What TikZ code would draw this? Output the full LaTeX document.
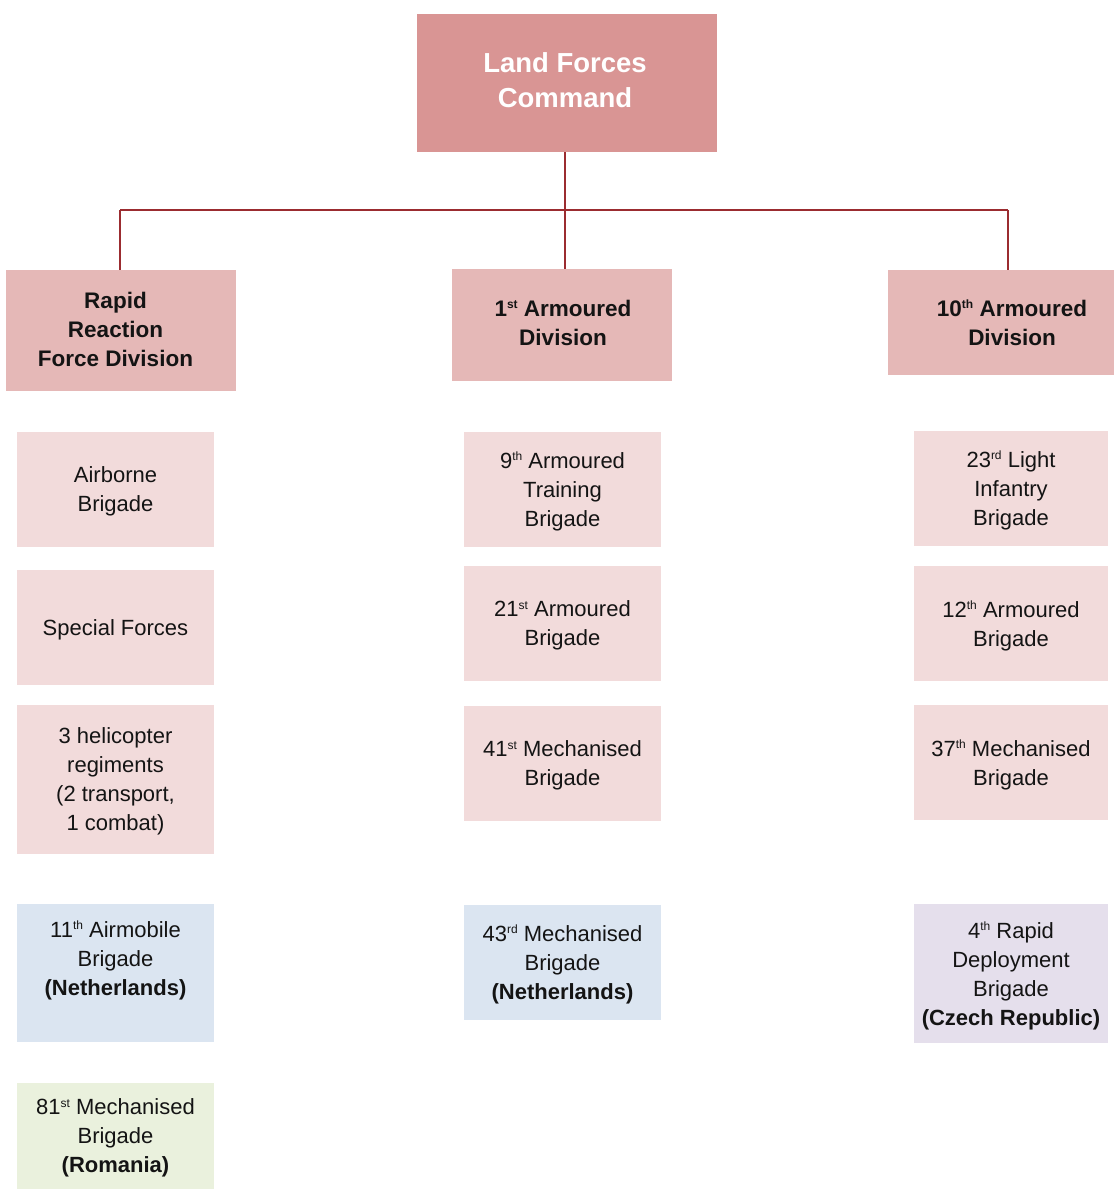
\documentclass[tikz,border=0pt]{standalone}
\usepackage{fontspec}
\setmainfont{Liberation Sans}
\definecolor{topc}{HTML}{D99594}
\definecolor{divc}{HTML}{E5B8B7}
\definecolor{subc}{HTML}{F2DBDB}
\definecolor{bluec}{HTML}{DBE5F1}
\definecolor{greenc}{HTML}{EAF1DD}
\definecolor{lavc}{HTML}{E5DFEC}
\definecolor{linec}{HTML}{9B2C30}
\definecolor{txtc}{HTML}{141414}
\newcommand{\sth}[1]{\raisebox{0.36em}{\fontsize{12}{12}\selectfont #1}}
\begin{document}
\begin{tikzpicture}[x=1pt,y=1pt,
  box/.style={inner sep=0pt, align=center, text=txtc, text depth=0pt,
    font=\fontsize{22}{29}\selectfont},
  plain/.style={inner sep=0pt},
  topbox/.style={plain, fill=topc, minimum width=300pt, minimum height=138pt},
  toptext/.style={box, text=white, font=\fontsize{27.5}{35}\selectfont\bfseries},
  divbox/.style={plain, fill=divc},
  divtext/.style={box, font=\fontsize{22.5}{29}\selectfont\bfseries},
  subbox/.style={box, fill=subc},
  conn/.style={draw=linec, line width=1.8pt}]
\useasboundingbox (0,0) rectangle (1114,-1189);
\node[topbox] (top) at (567,-83) {};
\node[toptext] (topt) at (565,-80) {Land Forces\\Command};
\node[divbox, minimum width=230pt, minimum height=121pt] (rrf) at (121,-330.5) {};
\node[divtext] (rrft) at (115.5,-329) {Rapid\\Reaction\\Force Division};
\node[divbox, minimum width=220pt, minimum height=112pt] (arm1) at (562,-325) {};
\node[divtext] (arm1t) at (563,-322.5) {1\sth{st} Armoured\\Division};
\node[divbox, minimum width=226pt, minimum height=105pt] (arm10) at (1001,-322.5) {};
\node[divtext] (arm10t) at (1012,-322.5) {10\sth{th} Armoured\\Division};
% connectors
\coordinate (jl) at (120,-210);
\coordinate (jc) at (565,-210);
\coordinate (jr) at (1008,-210);
\draw[conn] (top.south -| jc) -- (jc);
\draw[conn] (jl) -- (jr);
\draw[conn] (jl) -- (jl |- rrf.north);
\draw[conn] (jc) -- (jc |- arm1.north);
\draw[conn] (jr) -- (jr |- arm10.north);
% left column
\node[subbox, minimum width=197pt, minimum height=115pt] (airb) at (115.5,-489.5) {Airborne\\Brigade};
\node[subbox, minimum width=197pt, minimum height=115pt] (spec) at (115.5,-627.5) {Special Forces};
\node[subbox, minimum width=197pt, minimum height=149pt] (heli) at (115.5,-779.5) {3 helicopter\\regiments\\(2 transport,\\1 combat)};
\node[box, fill=bluec, minimum width=197pt, minimum height=138pt] (airm) at (115.5,-973) {11\sth{th} Airmobile\\Brigade\\\textbf{(Netherlands)}\\\mbox{}};
\node[box, fill=greenc, minimum width=197pt, minimum height=106pt] (mech81) at (115.5,-1136) {81\sth{st} Mechanised\\Brigade\\\textbf{(Romania)}};
% middle column
\node[subbox, minimum width=197pt, minimum height=115pt] (trn9) at (562.5,-489.5) {9\sth{th} Armoured\\Training\\Brigade};
\node[subbox, minimum width=197pt, minimum height=115pt] (arm21) at (562.5,-623.5) {21\sth{st} Armoured\\Brigade};
\node[subbox, minimum width=197pt, minimum height=115pt] (mech41) at (562.5,-763.5) {41\sth{st} Mechanised\\Brigade};
\node[box, fill=bluec, minimum width=197pt, minimum height=115pt] (mech43) at (562.5,-962.5) {43\sth{rd} Mechanised\\Brigade\\\textbf{(Netherlands)}};
% right column
\node[subbox, minimum width=194pt, minimum height=115pt] (inf23) at (1011,-488.5) {23\sth{rd} Light\\Infantry\\Brigade};
\node[subbox, minimum width=194pt, minimum height=115pt] (arm12) at (1011,-623.5) {12\sth{th} Armoured\\Brigade};
\node[subbox, minimum width=194pt, minimum height=115pt] (mech37) at (1011,-762.5) {37\sth{th} Mechanised\\Brigade};
\node[box, fill=lavc, minimum width=194pt, minimum height=139pt] (rdb4) at (1011,-973.5) {4\sth{th} Rapid\\Deployment\\Brigade\\\textbf{(Czech Republic)}};
\end{tikzpicture}
\end{document}
